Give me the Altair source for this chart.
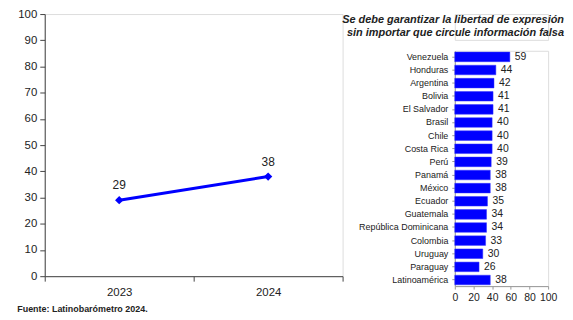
import altair as alt
import pandas as pd

years = ["2023", "2024"]
year_values = [29, 38]

countries = ["Venezuela", "Honduras", "Argentina", "Bolivia", "El Salvador", "Brasil",
             "Chile", "Costa Rica", "Perú", "Panamá", "México", "Ecuador", "Guatemala",
             "República Dominicana", "Colombia", "Uruguay", "Paraguay", "Latinoamérica"]
country_values = [59, 44, 42, 41, 41, 40, 40, 40, 39, 38, 38, 35, 34, 34, 33, 30, 26, 38]

title_lines = ["Se debe garantizar la libertad de expresión",
               "sin importar que circule información falsa"]
footer = "Fuente: Latinobarómetro 2024."

BLUE = "#0000FF"
FONT = "Liberation Sans"
TXT = "#222222"

df_line = pd.DataFrame({"year": years, "value": year_values})
df_bar = pd.DataFrame({"country": countries, "value": country_values})
df_title = pd.DataFrame({"line": title_lines, "idx": list(range(len(title_lines)))})

# ---- left: line chart ----
base = alt.Chart(df_line).encode(
    x=alt.X("year:N", scale=alt.Scale(type="band", paddingInner=0, paddingOuter=0),
            axis=alt.Axis(title=None, labelAngle=0, tickBand="extent", labelFontSize=11.5,
                          labelColor=TXT, domainColor="#444", tickColor="#444",
                          tickSize=5, labelPadding=5)),
    y=alt.Y("value:Q", scale=alt.Scale(domain=[0, 100]),
            axis=alt.Axis(title=None, values=list(range(0, 101, 10)), grid=False,
                          labelFontSize=11.5, labelColor=TXT, domainColor="#444",
                          tickColor="#444", tickSize=5, labelPadding=3)),
)
line = base.mark_line(color=BLUE, strokeWidth=3)
pts = base.mark_point(shape="diamond", filled=True, color=BLUE, size=70, opacity=1)
lbl = base.mark_text(dy=-15, fontSize=12, color=TXT, font=FONT).encode(text="value:Q")
left = alt.layer(line, pts, lbl).properties(width=300, height=264)

# ---- right: title + bar chart ----
title_chart = alt.Chart(df_title).mark_text(
    fontWeight="bold", fontStyle="italic", fontSize=11, align="right",
    color=TXT, font=FONT
).encode(
    y=alt.Y("idx:O", axis=None, scale=alt.Scale(paddingInner=0, paddingOuter=0)),
    x=alt.value(110),
    text="line:N",
).properties(width=94, height=26)

bbase = alt.Chart(df_bar).encode(
    y=alt.Y("country:N", sort=countries,
            scale=alt.Scale(paddingInner=0.27, paddingOuter=0.1),
            axis=alt.Axis(title=None, labelFontSize=9, labelColor=TXT, domainColor="#999",
                          tickColor="#999", tickSize=3, labelPadding=4)),
    x=alt.X("value:Q", scale=alt.Scale(domain=[0, 100]),
            axis=alt.Axis(title=None, values=[0, 20, 40, 60, 80, 100], grid=False,
                          labelOverlap=False, labelFlush=False,
                          labelFontSize=10.5, labelColor=TXT, domainColor="#999",
                          tickColor="#999", tickSize=3, labelPadding=3)),
)
bars = bbase.mark_bar(color=BLUE, stroke="#3333ff", strokeWidth=0.5)
vals = bbase.mark_text(align="left", dx=5, fontSize=10.5, color=TXT, font=FONT).encode(text="value:Q")
right_bars = alt.layer(bars, vals).properties(width=94, height=237)

right = alt.vconcat(title_chart, right_bars, spacing=11, bounds="flush")

chart = alt.hconcat(left, right, spacing=113, bounds="flush").properties(
    title=alt.TitleParams(footer, orient="bottom", anchor="start", fontSize=9,
                          fontWeight="bold", font=FONT, color=TXT, offset=2),
    padding={"left": 9, "top": -2, "right": 0, "bottom": 0},
).configure_view(stroke=None).configure_axis(labelFont=FONT).configure(background="white")

chart.save("out.html", embed_options={"renderer": "svg", "actions": False})
